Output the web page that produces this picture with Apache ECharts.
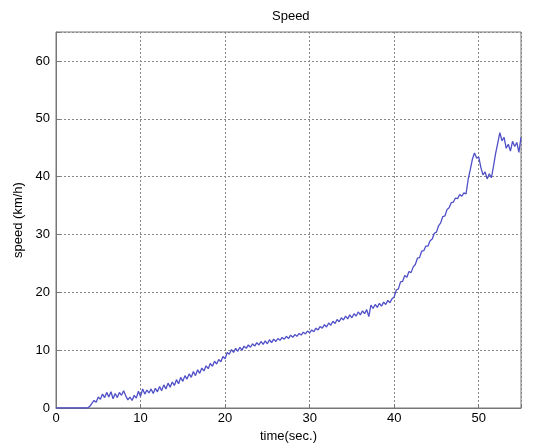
<!DOCTYPE html>
<html>
<head>
<meta charset="utf-8">
<script src="https://cdn.jsdelivr.net/npm/echarts@6/dist/echarts.min.js"></script>
<style>html,body{margin:0;padding:0;background:#fff}#c{width:535px;height:448px}</style>
</head>
<body>
<div id="c"></div>
<script>
var titleText = 'Speed';
var xName = 'time(sec.)';
var yName = 'speed (km/h)';
var xTicks = [0, 10, 20, 30, 40, 50];
var yTicks = [0, 10, 20, 30, 40, 50, 60];
var sampleStep = 0.25; // seconds between samples, starting at t = 0
var speed = [
0,0,0,0,0,0,0,0,0,0,0,0,0,0,0,0,
0.3,0.8,1.3,1.0,1.9,1.5,2.4,1.8,2.7,1.9,2.8,1.6,2.5,1.8,2.7,2.2,
3.0,2.1,1.4,1.9,1.3,2.2,1.7,2.9,2.0,3.3,2.4,3.1,2.6,3.3,2.5,3.4,
2.8,3.7,3.0,4.0,3.3,4.3,3.6,4.5,3.9,4.9,4.2,5.3,4.6,5.6,5.0,5.9,
5.3,6.3,5.6,6.6,6.0,6.9,6.4,7.3,6.8,7.7,7.2,8.1,7.6,8.4,8.0,8.9,
8.5,9.6,9.3,10.1,9.6,10.3,9.8,10.5,10.0,10.7,10.3,10.9,10.5,11.1,10.7,11.3,
10.9,11.5,11.0,11.6,11.1,11.8,11.3,11.9,11.5,12.0,11.7,12.2,11.9,12.4,12.0,12.6,
12.2,12.7,12.4,12.9,12.6,13.1,12.8,13.3,13.0,13.5,13.2,13.8,13.5,14.1,13.8,14.4,
14.0,14.7,14.3,15.0,14.6,15.3,14.9,15.6,15.2,15.9,15.4,16.1,15.6,16.3,15.9,16.6,
16.1,16.8,16.3,17.0,15.8,17.8,17.2,17.9,17.4,18.1,17.6,18.3,17.9,18.6,18.2,18.9,
19.2,20.4,20.6,21.8,21.9,22.9,22.6,23.6,23.4,24.4,24.8,25.9,26.0,27.1,27.2,28.0,
28.0,28.9,29.2,30.2,30.4,31.5,32.0,33.1,33.2,34.3,34.6,35.5,35.6,36.3,36.2,36.9,
36.6,37.2,37.0,39.5,41.2,43.0,44.1,43.2,43.4,41.6,40.3,40.8,39.6,40.5,39.8,41.8,
44.0,45.8,47.6,46.2,46.8,44.9,45.6,44.4,46.1,45.2,45.9,44.2,46.8
];

var points = speed.map(function (v, i) { return [+(i * sampleStep).toFixed(2), v]; });

var font = 'Liberation Sans, Arial, sans-serif';
var chart = echarts.init(document.getElementById('c'), null, {renderer: 'canvas'});
chart.setOption({
  animation: false,
  backgroundColor: '#fff',
  title: {
    text: titleText, left: 267, top: 5,
    textStyle: {fontFamily: font, fontSize: 13, fontWeight: 'normal', color: '#000'}
  },
  grid: {left: 56, right: 14, top: 32, bottom: 40, show: true, borderColor: '#777', borderWidth: 1, containLabel: false},
  xAxis: {
    type: 'value', min: 0, max: 55, interval: 10,
    name: xName, nameLocation: 'middle', nameGap: 22,
    nameTextStyle: {fontFamily: font, fontSize: 13, color: '#000'},
    axisLine: {show: true, lineStyle: {color: '#777'}},
    axisTick: {show: true, inside: true, length: 4, lineStyle: {color: '#777'}},
    axisLabel: {fontFamily: font, fontSize: 13, color: '#000', margin: 4,
      formatter: function (v) { return xTicks.indexOf(v) >= 0 ? String(v) : ''; }},
    splitLine: {show: true, lineStyle: {color: '#888', type: [2, 2], width: 1}}
  },
  yAxis: {
    type: 'value', min: 0, max: 65, interval: 10,
    name: yName, nameLocation: 'middle', nameGap: 28, nameRotate: 90,
    nameTextStyle: {fontFamily: font, fontSize: 13, color: '#000'},
    axisLine: {show: true, lineStyle: {color: '#777'}},
    axisTick: {show: true, inside: true, length: 4, lineStyle: {color: '#777'}},
    axisLabel: {fontFamily: font, fontSize: 13, color: '#000', margin: 6,
      formatter: function (v) { return yTicks.indexOf(v) >= 0 ? String(v) : ''; }},
    splitLine: {show: true, lineStyle: {color: '#888', type: [2, 2], width: 1}}
  },
  series: [{
    type: 'line', data: points, showSymbol: false, symbol: 'none',
    lineStyle: {color: '#4f4fc8', width: 1.3}, z: 3
  }]
});
</script>
</body>
</html>
